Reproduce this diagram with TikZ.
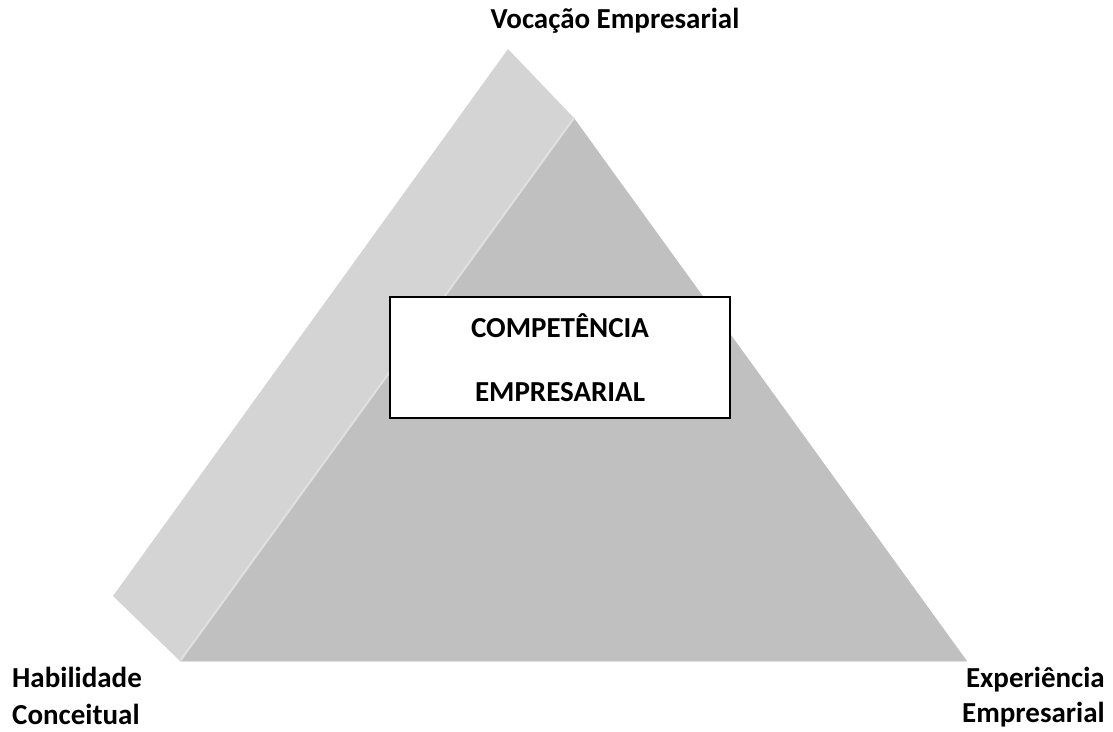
\documentclass[tikz,border=0pt]{standalone}
\usepackage{fontspec}
\setmainfont{Carlito}
\usepackage{tikz}

\definecolor{sidegray}{RGB}{212,212,212}
\definecolor{frontgray}{RGB}{192,192,192}
\definecolor{edgegray}{RGB}{224,224,224}

\begin{document}
\begin{tikzpicture}[x=1pt,y=-1pt]
  \useasboundingbox (0,0) rectangle (1113,731);

  \coordinate (backtop) at (508,49);
  \coordinate (backleft) at (113,596);
  \coordinate (apex) at (574,118);
  \coordinate (left) at (180,661);
  \coordinate (right) at (967,661);

  \fill[sidegray] (backleft) -- (backtop) -- (apex) -- (left) -- cycle;
  \fill[frontgray] (apex) -- (right) -- (left) -- cycle;
  \draw[edgegray, line width=2pt] (left) -- (apex);
  \draw[edgegray, line width=1pt] (left) -- (right);

  \node[draw, fill=white, line width=1.5pt, minimum width=340, minimum height=121,
        align=center, font=\bfseries\fontsize{29}{64}\selectfont] (box) at (560,357.5)
        {COMPETÊNCIA\\EMPRESARIAL};

  \node[anchor=base, font=\bfseries\fontsize{29}{37}\selectfont] (vocacao) at (615,28) {Vocação Empresarial};
  \node[anchor=base west, inner sep=0pt, align=left, font=\bfseries\fontsize{29}{37}\selectfont] (habilidade) at (12,724) {Habilidade\\Conceitual};
  \node[anchor=base east, inner sep=0pt, align=right, font=\bfseries\fontsize{29}{35}\selectfont] (experiencia) at (1105,722) {Experiência\\Empresarial};
\end{tikzpicture}
\end{document}
